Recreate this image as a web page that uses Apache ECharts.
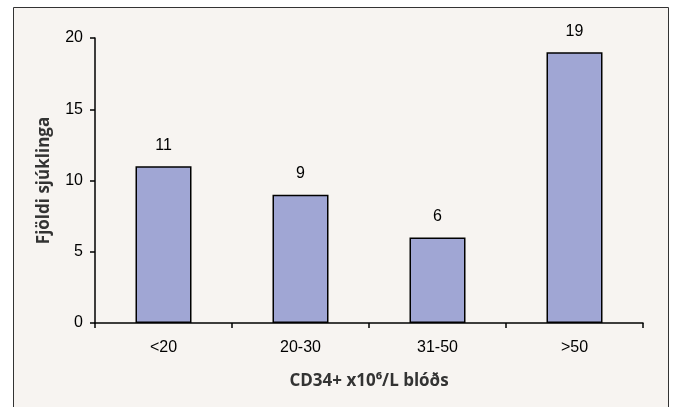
<!DOCTYPE html>
<html>
<head>
<meta charset="utf-8">
<script src="https://cdn.jsdelivr.net/npm/echarts@6/dist/echarts.min.js"></script>
<style>
html,body{margin:0;padding:0;background:#fff;}
#c{width:674px;height:407px;}
</style>
</head>
<body>
<div id="c"></div>
<script>
const categories = ['<20', '20-30', '31-50', '>50'];
const values = [11, 9, 6, 19];
const yTicks = [0, 5, 10, 15, 20];

const chart = echarts.init(document.getElementById('c'));
chart.setOption({
  animation: false,
  backgroundColor: '#ffffff',
  graphic: [{
    type: 'rect',
    z: -10,
    shape: {x: 13.5, y: 7.5, width: 655, height: 410},
    style: {fill: '#F7F4F1', stroke: '#333333', lineWidth: 1}
  }],
  grid: {left: 95, right: 31, top: 38, bottom: 84},
  xAxis: {
    type: 'category',
    data: categories,
    name: 'CD34+ x10⁶/L blóðs',
    nameLocation: 'middle',
    nameGap: 50,
    nameTextStyle: {fontFamily: 'Open Sans', fontWeight: 'bold', fontSize: 17, color: '#333'},
    axisLine: {lineStyle: {color: '#000', width: 1.5}},
    axisTick: {show: true, length: 5, lineStyle: {color: '#000', width: 1.5}},
    axisLabel: {fontFamily: 'Liberation Sans', fontSize: 16, color: '#000', margin: 17}
  },
  yAxis: {
    type: 'value',
    min: yTicks[0],
    max: yTicks[yTicks.length - 1],
    interval: 5,
    name: 'Fjöldi sjúklinga',
    nameLocation: 'middle',
    nameGap: 42,
    nameTextStyle: {fontFamily: 'Open Sans', fontWeight: 'bold', fontSize: 17, color: '#333'},
    axisLine: {show: true, lineStyle: {color: '#000', width: 1.5}},
    axisTick: {show: true, length: 5, lineStyle: {color: '#000', width: 1.5}},
    splitLine: {show: false},
    axisLabel: {fontFamily: 'Liberation Sans', fontSize: 16, color: '#000', margin: 12}
  },
  series: [{
    type: 'bar',
    data: values,
    barWidth: 56,
    itemStyle: {color: '#A0A6D4', borderColor: '#000', borderWidth: 1.5},
    label: {show: true, position: 'top', distance: 13, fontFamily: 'Liberation Sans', fontSize: 16, color: '#000'}
  }]
});
</script>
</body>
</html>
